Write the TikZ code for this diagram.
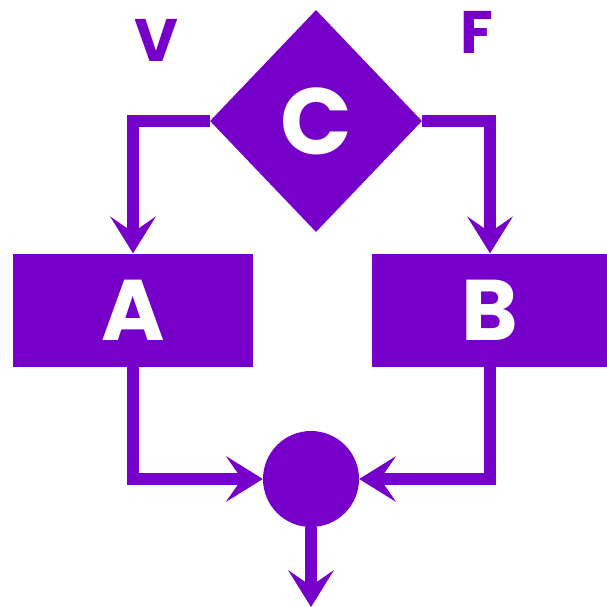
\documentclass[tikz,border=0pt]{standalone}
\usepackage{fontspec}
\setmainfont{Poppins}
\usetikzlibrary{shapes.geometric,arrows.meta}
\definecolor{violetC}{HTML}{7600CA}
\tikzset{
  conn/.style={draw=violetC, line width=12pt, line join=miter,
    -{Stealth[length=37pt,width=46pt,inset=16pt,line width=0pt]}},
  boxnode/.style={rectangle, fill=violetC, inner sep=0pt, text=white,
    font=\fontsize{86}{86}\selectfont\bfseries},
  lbl/.style={text=violetC, inner sep=0pt, font=\fontsize{60}{60}\selectfont\bfseries}
}
\begin{document}
\begin{tikzpicture}[x=1pt,y=-1pt]
\useasboundingbox (0,0) rectangle (607,607);
\node[boxnode, diamond, minimum width=212pt, minimum height=222pt,
  font=\fontsize{94}{94}\selectfont\bfseries] (C) at (316,121) {C};
\node[boxnode, minimum width=240pt, minimum height=113pt] (A) at (133,310) {A};
\node[boxnode, minimum width=236pt, minimum height=113pt] (B) at (490,310) {B};
\node[circle, fill=violetC, inner sep=0pt, minimum size=96pt] (J) at (311,479) {};
\coordinate (out) at (311,607);
\node[lbl] (V) at (156,40) {V};
\node[lbl] (F) at (477,32) {F};
\draw[conn] (C.west) -| (A.north);
\draw[conn] (C.east) -| (B.north);
\draw[conn] (A.south) |- (J.west);
\draw[conn] (B.south) |- (J.east);
\draw[conn] (J.south) -- (out);
\end{tikzpicture}
\end{document}
